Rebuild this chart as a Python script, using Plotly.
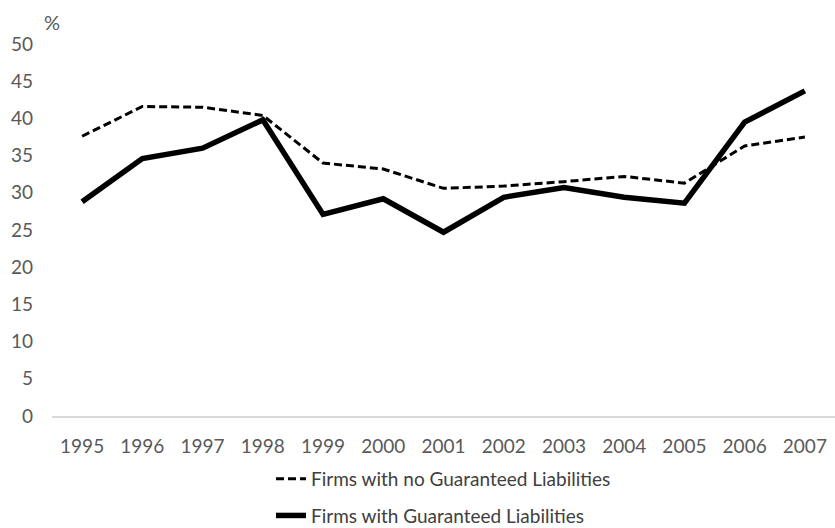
import plotly.graph_objects as go

years = ["1995", "1996", "1997", "1998", "1999", "2000", "2001", "2002", "2003", "2004", "2005", "2006", "2007"]
no_guaranteed = [37.6, 41.6, 41.5, 40.4, 34.0, 33.2, 30.6, 30.9, 31.5, 32.2, 31.3, 36.3, 37.5]
guaranteed = [28.8, 34.6, 36.0, 39.8, 27.1, 29.2, 24.7, 29.4, 30.7, 29.4, 28.6, 39.5, 43.7]
y_ticks = [0, 5, 10, 15, 20, 25, 30, 35, 40, 45, 50]

FONT = "Lato, Open Sans, sans-serif"
GREY = "#595959"

fig = go.Figure()
fig.add_trace(go.Scatter(
    x=years, y=no_guaranteed, mode="lines",
    name="Firms with no Guaranteed Liabilities", legendgroup="a",
    line=dict(color="black", width=3, dash="8px,4px"),
))
fig.add_trace(go.Scatter(
    x=years, y=guaranteed, mode="lines",
    name="Firms with Guaranteed Liabilities", legendgroup="b",
    line=dict(color="black", width=5.5),
))

fig.update_layout(
    width=835, height=528,
    margin=dict(l=52, r=0, t=44, b=112, autoexpand=False),
    paper_bgcolor="white", plot_bgcolor="white",
    font=dict(family=FONT, size=19, color=GREY),
    showlegend=True,
    legend=dict(
        orientation="v", x=0.5, xanchor="center", y=-0.118, yanchor="top",
        font=dict(family=FONT, size=19, color="#404040"),
        bgcolor="rgba(0,0,0,0)", tracegroupgap=9,
    ),
    xaxis=dict(
        type="category", range=[-0.5, 12.5], showgrid=False, zeroline=False,
        showline=True, linecolor="#d9d9d9", linewidth=1.5, automargin=False,
        ticks="", tickfont=dict(family=FONT, size=19, color=GREY),
        ticklabelstandoff=12,
    ),
    yaxis=dict(
        range=[0, 50], tickvals=y_ticks, showgrid=False, zeroline=False, automargin=False,
        showline=False, ticks="", tickfont=dict(family=FONT, size=19, color=GREY),
        ticklabelstandoff=18,
    ),
    annotations=[dict(
        text="%", xref="paper", yref="paper", x=0, y=1, xanchor="center", yanchor="middle",
        yshift=22, showarrow=False, font=dict(family=FONT, size=20, color=GREY),
    )],
)

fig.write_html("out.html")
